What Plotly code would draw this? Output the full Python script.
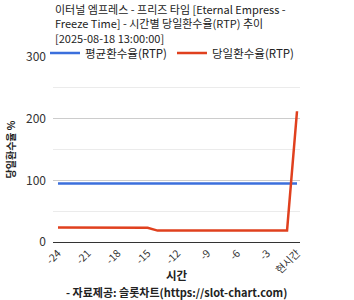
import plotly.graph_objects as go

hours = list(range(-24, 1))
avg_rtp = [95] * 25
daily_rtp = [23.5, 23.5, 23.5, 23.5, 23.5, 23, 23, 23, 23, 23,
             18.5, 18.5, 18.5, 18.5, 18.5, 18.5, 18.5, 18.5, 18.5, 18.5,
             18.5, 18.5, 18.5, 18.5, 212]
tick_vals = [-24, -21, -18, -15, -12, -9, -6, -3, 0]
tick_text = ["-24", "-21", "-18", "-15", "-12", "-9", "-6", "-3", "현시간"]
title_text = ("이터널 엠프레스 - 프리즈 타임 [Eternal Empress -<br>"
              "Freeze Time] - 시간별 당일환수율(RTP) 추이<br>"
              "[2025-08-18 13:00:00]")

FONT = "Noto Sans CJK KR, Noto Sans, sans-serif"
TOP, BOT, H = 57, 242, 185

def py(pix):
    return (BOT - pix) / H

fig = go.Figure()
fig.add_trace(go.Scatter(x=hours, y=avg_rtp, mode="lines", name="평균환수율(RTP)",
                         line=dict(color="#3b6fdc", width=2.5)))
fig.add_trace(go.Scatter(x=hours, y=daily_rtp, mode="lines", name="당일환수율(RTP)",
                         line=dict(color="#e0401e", width=2.5)))

fig.update_layout(
    width=354, height=300,
    margin=dict(l=53, r=54, t=57, b=58, autoexpand=False),
    paper_bgcolor="white", plot_bgcolor="white",
    font=dict(family=FONT, size=12, color="#222"),
    showlegend=True,
    legend=dict(orientation="h", x=-8/247, xref="paper", xanchor="left",
                y=py(38.5), yref="paper", yanchor="top",
                font=dict(family=FONT, size=11.5, color="#222"),
                itemwidth=30, tracegroupgap=0, bgcolor="rgba(0,0,0,0)"),
    xaxis=dict(range=[-24.5, 0.3], tickvals=tick_vals, ticktext=tick_text,
               tickangle=-45, showgrid=False, zeroline=False,
               showline=True, linecolor="#333", linewidth=1,
               tickfont=dict(family=FONT, size=10.5, color="#333"),
               automargin=False, fixedrange=True),
    yaxis=dict(range=[0, 300], tickvals=[0, 100, 200, 300], showgrid=True,
               gridcolor="#cccccc", zeroline=False,
               minor=dict(dtick=50, showgrid=True, gridcolor="#ebebeb", tick0=0),
               tickfont=dict(family=FONT, size=12, color="#333"),
               ticklabelstandoff=6,
               title=dict(text="<b>당일환수율 %</b>", font=dict(family=FONT, size=10, color="#222"), standoff=8),
               automargin=False, fixedrange=True),
)
fig.add_annotation(text=title_text, xref="paper", yref="paper", x=0, y=py(-1),
                   xanchor="left", yanchor="top", align="left", showarrow=False,
                   font=dict(family=FONT, size=11, color="#222"))
fig.add_annotation(text="<b>시간</b>", xref="paper", yref="paper", x=0.5, y=py(275),
                   xanchor="center", yanchor="middle", showarrow=False,
                   font=dict(family=FONT, size=11.5, color="#222"))
fig.add_annotation(text="<b>- 자료제공: 슬롯차트(https://slot-chart.com)</b>",
                   xref="paper", yref="paper", x=0.5, y=py(292),
                   xanchor="center", yanchor="middle", showarrow=False,
                   font=dict(family=FONT, size=11, color="#222"))

fig.write_html("out.html")
